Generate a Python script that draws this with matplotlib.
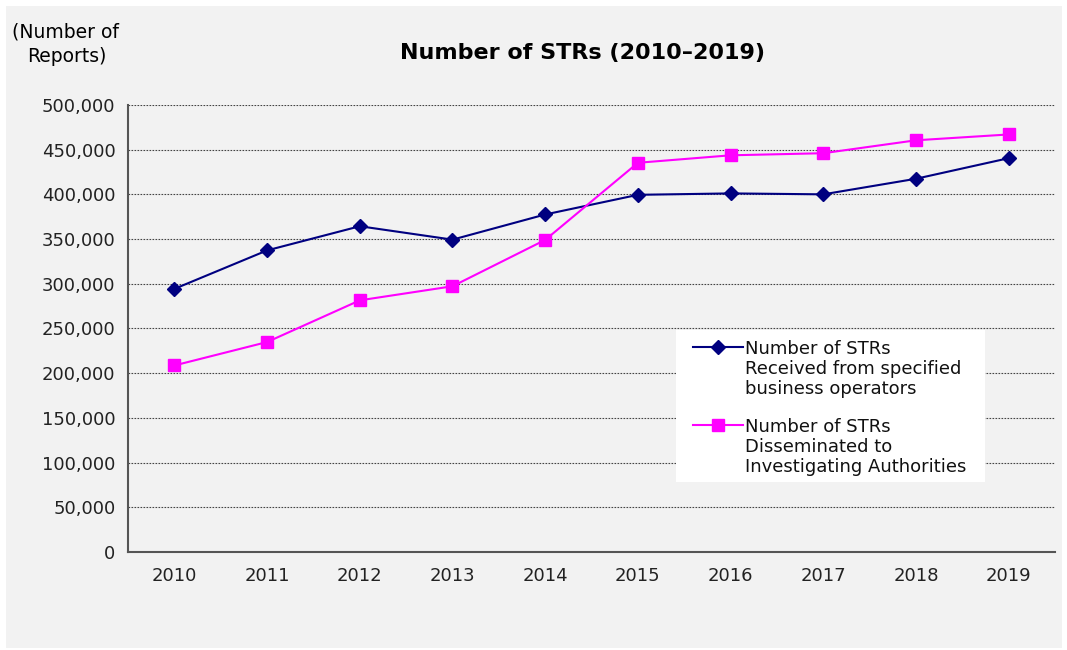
import matplotlib.pyplot as plt
from matplotlib.patches import Rectangle
from matplotlib.lines import Line2D
from matplotlib.ticker import FuncFormatter

years = ['2010', '2011', '2012', '2013', '2014', '2015', '2016', '2017', '2018', '2019']
received = [294305, 337341, 364366, 349361, 377513, 399508, 401091, 400043, 417465, 440492]
disseminated = [208650, 234836, 281475, 297225, 349054, 435339, 443705, 446044, 460503, 467028]
labels = ['Number of STRs\nReceived from specified\nbusiness operators',
          'Number of STRs\nDisseminated to\nInvestigating Authorities']

navy = '#000080'
magenta = '#ff00ff'

fig = plt.figure(figsize=(10.67, 6.5), dpi=100)
fig.patch.set_facecolor('white')
fig.patches.append(Rectangle((6 / 1067, 2 / 650), 1056 / 1067, 642 / 650,
                             transform=fig.transFigure, facecolor='#f2f2f2',
                             edgecolor='none', zorder=-10))

ax = fig.add_axes([0.12, 0.1508, 0.8688, 0.6877])
ax.set_facecolor('#f2f2f2')
x = range(len(years))
ax.plot(x, received, color=navy, marker='D', markersize=7, linewidth=1.5, zorder=3)
ax.plot(x, disseminated, color=magenta, marker='s', markersize=8, linewidth=1.5, zorder=3)

ax.set_xlim(-0.5, 9.5)
ax.set_ylim(0, 500000)
ax.set_yticks(range(0, 500001, 50000))
ax.yaxis.set_major_formatter(FuncFormatter(lambda v, p: f'{int(v):,}'))
ax.set_xticks(list(x))
ax.set_xticklabels(years)
ax.tick_params(axis='both', length=0, labelsize=13, colors='#222222')
ax.tick_params(axis='x', pad=11)
ax.tick_params(axis='y', pad=9)
ax.grid(axis='y', color='#444444', linestyle=(0, (1.5, 1.2)), linewidth=0.8)
ax.set_axisbelow(True)
for s in ['top', 'right']:
    ax.spines[s].set_visible(False)
for s in ['left', 'bottom']:
    ax.spines[s].set_color('#555555')
    ax.spines[s].set_linewidth(1.5)

# legend drawn by hand so the marker sits on the first text line
ax.add_patch(Rectangle((0.591, 0.1566), 0.3335, 0.34, transform=ax.transAxes,
                       facecolor='white', edgecolor='none', zorder=4))
legend_items = [(navy, 'D', 7, labels[0], 0.4586, 0.4743),
                (magenta, 's', 8, labels[1], 0.2841, 0.2998)]
for color, mk, ms, lab, yl, yt in legend_items:
    ax.add_line(Line2D([0.6095, 0.6634], [yl, yl], color=color, linewidth=1.5,
                       transform=ax.transAxes, zorder=5))
    ax.add_line(Line2D([0.6364], [yl], color=color, marker=mk, markersize=ms,
                       transform=ax.transAxes, zorder=5))
    ax.text(0.6656, yt, lab, transform=ax.transAxes, ha='left', va='top',
            fontsize=13, linespacing=1.15, color='#111111', zorder=5)

fig.text(582 / 1067, 1 - 53 / 650, 'Number of STRs (2010\u20132019)', ha='center',
         va='center', fontsize=16, fontweight='bold')
fig.text(12 / 1067, 1 - 32 / 650, '(Number of', ha='left', va='center', fontsize=13.5)
fig.text(27 / 1067, 1 - 57 / 650, 'Reports)', ha='left', va='center', fontsize=13.5)

fig.savefig('out.png', dpi=100)
